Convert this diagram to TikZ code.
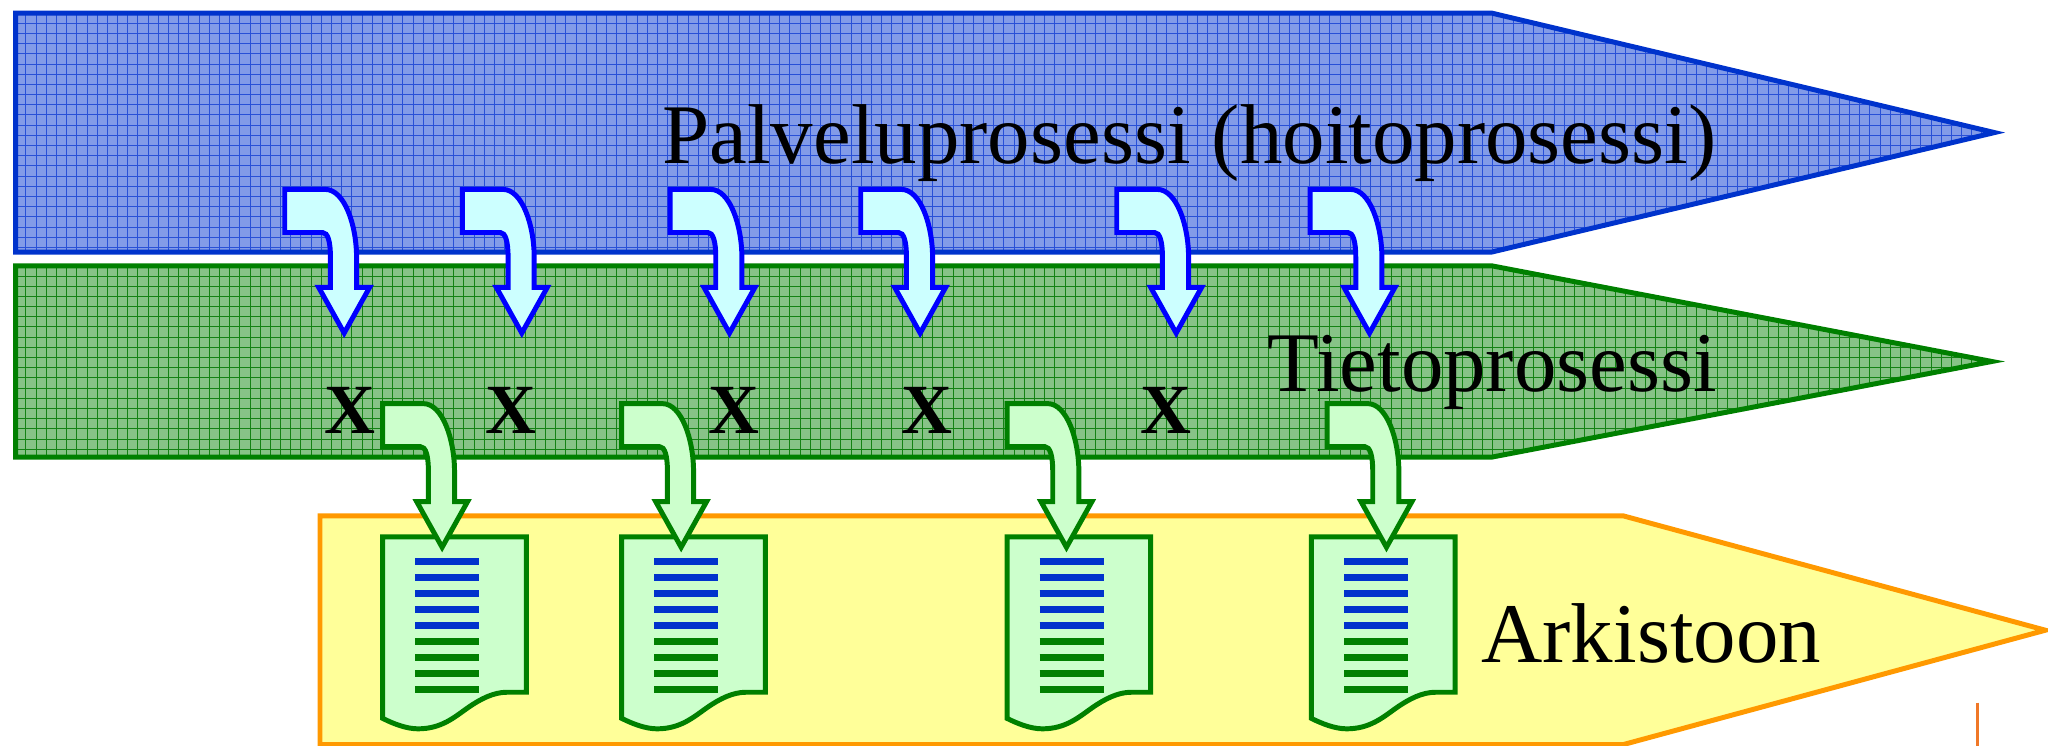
\documentclass[tikz,border=0pt]{standalone}
\usepackage{fontspec}
\setmainfont{Liberation Serif}
\usepackage{tikz}
\usetikzlibrary{positioning, calc}
\usepackage{xcolor}

\definecolor{bandblue}{RGB}{0,51,204}
\definecolor{fillblue}{RGB}{130,155,232}
\definecolor{gridblue}{RGB}{40,80,215}
\definecolor{bandgreen}{RGB}{0,128,0}
\definecolor{fillgreen}{RGB}{135,195,135}
\definecolor{gridgreen}{RGB}{20,130,20}
\definecolor{bandorange}{RGB}{255,153,0}
\definecolor{fillyellow}{RGB}{255,255,153}
\definecolor{tickorange}{RGB}{240,120,40}
\definecolor{arrowblue}{RGB}{0,0,255}
\definecolor{lightcyan}{RGB}{204,255,255}
\definecolor{lightgreen}{RGB}{204,255,204}

\tikzset{
	% bent arrow: tail to the left, head pointing down
	bentarrow/.pic={
		\path[pic actions] (0,0) -- (31,0) .. controls (46,0) and (55,28) .. (55,52)
			-- (55,75) -- (65,75) -- (45.5,110) -- (26,75) -- (35,75) -- (35,52)
			.. controls (35,40) and (33,33) .. (29,33) -- (0,33) -- cycle;
	},
	% document sheet with text lines
	docicon/.pic={
		\path[docbody] (0,0) -- (110,0) -- (110,119) -- (95,119)
			.. controls (85,119) and (75,124) .. (65,131)
			.. controls (55,138) and (45,147) .. (27,147)
			.. controls (18,147) and (8,143) .. (0,139) -- cycle;
		\foreach \ly in {19,31.25,43.5,55.75,68}
			\draw[docline, bandblue] (25,\ly) -- (74,\ly);
		\foreach \ly in {80.25,92.5,104.75,117}
			\draw[docline, bandgreen] (25,\ly) -- (74,\ly);
	},
	docbody/.style={draw=bandgreen, fill=lightgreen, line width=3.8pt},
	docline/.style={line width=5.5pt},
	bluebent/.style={draw=arrowblue, fill=lightcyan, line width=3.8pt},
	greenbent/.style={draw=bandgreen, fill=lightgreen, line width=3.8pt}
}

\begin{document}
\begin{tikzpicture}[x=1pt, y=-1pt,
		bandline/.style={line width=3.8pt},
		gridline/.style={line width=0.7pt},
		bandtext/.style={inner sep=0pt, anchor=base west, font=\fontsize{65}{70}\selectfont},
		xsign/.style={inner sep=0pt, font=\fontsize{54}{58}\selectfont\bfseries}]
	
	\useasboundingbox (0,0) rectangle (1568,571);
	
	% Palveluprosessi band (blue, gridded)
	\begin{scope}
		\clip (12,10) -- (1142,10) -- (1527,101.5) -- (1142,193) -- (12,193) -- cycle;
		\fill[fillblue] (0,0) rectangle (1568,200);
		\foreach \gx in {12,19.8,...,1530}
			\draw[gridline, gridblue] (\gx,10) -- (\gx,193);
		\foreach \gy in {10,17.8,...,193}
			\draw[gridline, gridblue] (12,\gy) -- (1530,\gy);
	\end{scope}
	\draw[bandline, bandblue] (12,10) -- (1142,10) -- (1527,101.5) -- (1142,193) -- (12,193) -- cycle;
	
	% Tietoprosessi band (green, gridded)
	\begin{scope}
		\clip (12,203.5) -- (1142,203.5) -- (1525,276.75) -- (1142,350) -- (12,350) -- cycle;
		\fill[fillgreen] (0,200) rectangle (1568,360);
		\foreach \gx in {12,19.8,...,1530}
			\draw[gridline, gridgreen] (\gx,203.5) -- (\gx,350);
		\foreach \gy in {203.5,211.3,...,350}
			\draw[gridline, gridgreen] (12,\gy) -- (1530,\gy);
	\end{scope}
	\draw[bandline, bandgreen] (12,203.5) -- (1142,203.5) -- (1525,276.75) -- (1142,350) -- (12,350) -- cycle;
	
	% Arkistoon band (yellow)
	\draw[bandline, bandorange, fill=fillyellow] (245,395) -- (1243,395) -- (1566,482.5) -- (1243,570) -- (245,570) -- cycle;
	\draw[line width=2pt, tickorange] (1514,538) -- (1514,571);
	
	% Band labels
	\node[bandtext] (palvelu) at (507,125) {Palveluprosessi (hoitoprosessi)};
	\node[bandtext] (tieto) at (970,300) {Tietoprosessi};
	\node[bandtext] (arkisto) at (1134,507) {Arkistoon};
	
	% X marks on the information process
	\foreach \xx [count=\i] in {268,391,562,710,893}
		\node[xsign] (x\i) at (\xx,314) {X};
	
	% Archived documents
	\foreach \dx [count=\i] in {293,476,771,1004}
		\pic (doc\i) at (\dx,411) {docicon};
	
	% Arrows from service process down
	\foreach \ax [count=\i] in {218,354,513,659,855,1003}
		\pic[bluebent] (down\i) at (\ax,145) {bentarrow};
	
	% Arrows from information process to archive
	\foreach \ax [count=\i] in {293,476,771,1016}
		\pic[greenbent] (arch\i) at (\ax,309) {bentarrow};
	
\end{tikzpicture}
\end{document}
